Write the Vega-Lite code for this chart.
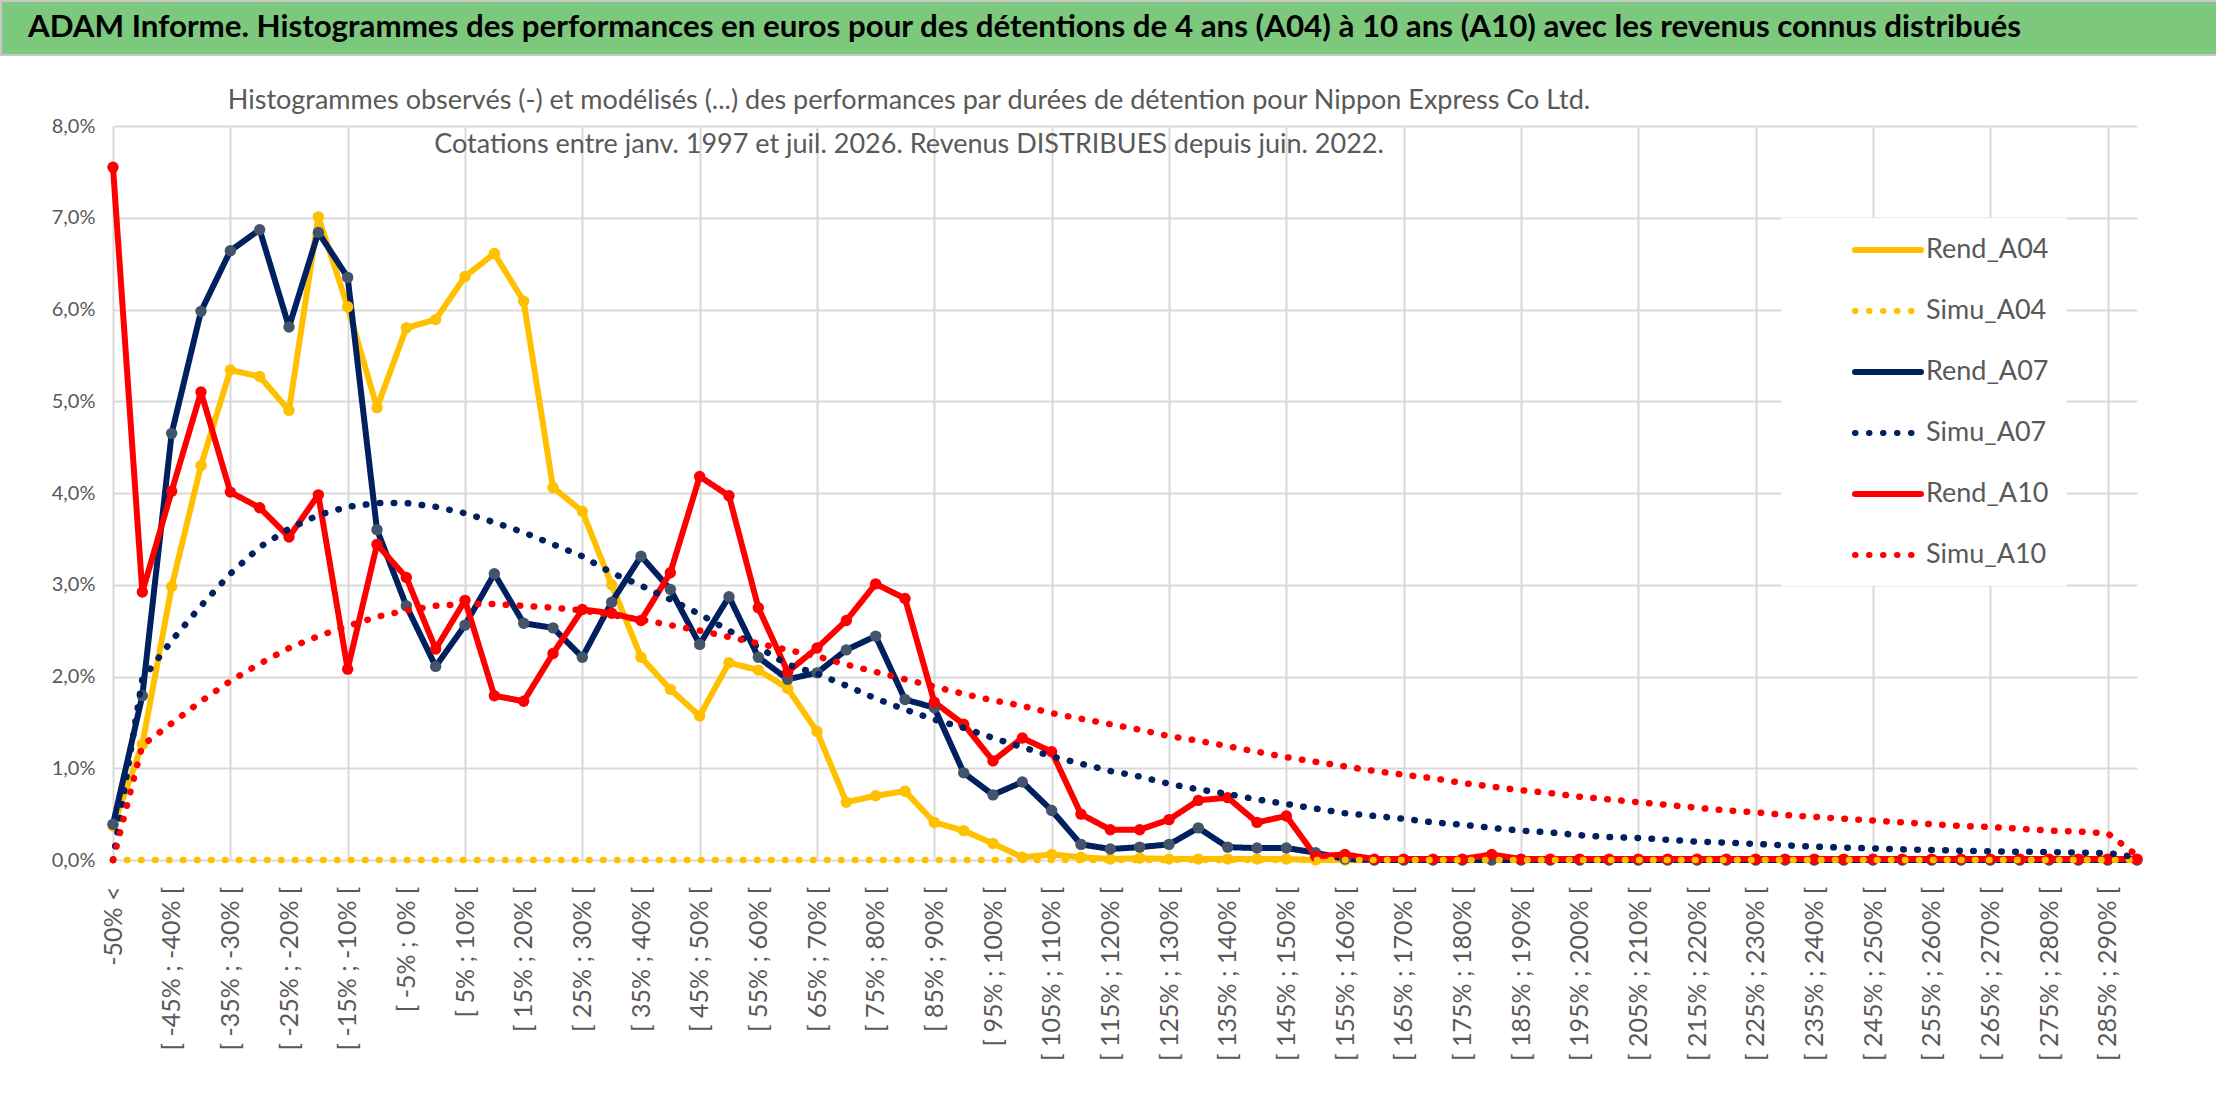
{
  "$schema": "https://vega.github.io/schema/vega-lite/v6.json",
  "background": "white",
  "padding": 0,
  "spacing": 71,
  "bounds": "flush",
  "config": {"view": {"stroke": null}, "font": "Lato"},
  "vconcat": [
    {
      "width": 2216,
      "height": 54,
      "view": {"fill": "#7CC87C", "stroke": "#C8C8C8", "strokeWidth": 2},
      "data": {"values": [{"t": "ADAM Informe. Histogrammes des performances en euros pour des détentions de 4 ans (A04) à 10 ans (A10) avec les revenus connus distribués"}]},
      "mark": {"type": "text", "align": "left", "baseline": "middle", "dx": -1081, "fontSize": 31.3, "fontWeight": "bold", "font": "Lato", "color": "#000000"},
      "encoding": {"text": {"field": "t", "type": "nominal"}}
    },
    {
      "spacing": 0,
      "bounds": "flush",
      "hconcat": [
        {"width": 112, "height": 734, "data": {"values": []}, "mark": "point"},
        {
          "width": 2024,
          "height": 734,
          "title": {
            "text": ["Histogrammes observés (-) et modélisés (...) des performances par durées de détention pour Nippon Express Co Ltd.", "Cotations entre janv. 1997 et juil. 2026. Revenus DISTRIBUES depuis juin. 2022."],
            "anchor": "start", "frame": "group", "align": "center", "dx": 796, "offset": -43,
            "fontSize": 27, "fontWeight": "normal", "color": "#595959", "lineHeight": 44, "font": "Lato"
          },
          "data": {"values": [
            {"i":0,"Rend_A04":0.37,"Simu_A04":0,"Rend_A07":0.39,"Simu_A07":0.0,"Rend_A10":7.55,"Simu_A10":0.0},
            {"i":1,"Rend_A04":1.26,"Simu_A04":0,"Rend_A07":1.79,"Simu_A07":1.97,"Rend_A10":2.92,"Simu_A10":1.25},
            {"i":2,"Rend_A04":2.98,"Simu_A04":0,"Rend_A07":4.65,"Simu_A07":2.39,"Rend_A10":4.02,"Simu_A10":1.49},
            {"i":3,"Rend_A04":4.30,"Simu_A04":0,"Rend_A07":5.98,"Simu_A07":2.77,"Rend_A10":5.10,"Simu_A10":1.73},
            {"i":4,"Rend_A04":5.34,"Simu_A04":0,"Rend_A07":6.64,"Simu_A07":3.12,"Rend_A10":4.01,"Simu_A10":1.95},
            {"i":5,"Rend_A04":5.27,"Simu_A04":0,"Rend_A07":6.87,"Simu_A07":3.41,"Rend_A10":3.84,"Simu_A10":2.14},
            {"i":6,"Rend_A04":4.90,"Simu_A04":0,"Rend_A07":5.81,"Simu_A07":3.61,"Rend_A10":3.52,"Simu_A10":2.31},
            {"i":7,"Rend_A04":7.01,"Simu_A04":0,"Rend_A07":6.84,"Simu_A07":3.76,"Rend_A10":3.98,"Simu_A10":2.44},
            {"i":8,"Rend_A04":6.03,"Simu_A04":0,"Rend_A07":6.35,"Simu_A07":3.85,"Rend_A10":2.08,"Simu_A10":2.55},
            {"i":9,"Rend_A04":4.93,"Simu_A04":0,"Rend_A07":3.60,"Simu_A07":3.89,"Rend_A10":3.44,"Simu_A10":2.65},
            {"i":10,"Rend_A04":5.80,"Simu_A04":0,"Rend_A07":2.77,"Simu_A07":3.89,"Rend_A10":3.08,"Simu_A10":2.72},
            {"i":11,"Rend_A04":5.89,"Simu_A04":0,"Rend_A07":2.11,"Simu_A07":3.85,"Rend_A10":2.30,"Simu_A10":2.77},
            {"i":12,"Rend_A04":6.36,"Simu_A04":0,"Rend_A07":2.56,"Simu_A07":3.78,"Rend_A10":2.83,"Simu_A10":2.79},
            {"i":13,"Rend_A04":6.61,"Simu_A04":0,"Rend_A07":3.12,"Simu_A07":3.68,"Rend_A10":1.79,"Simu_A10":2.79},
            {"i":14,"Rend_A04":6.09,"Simu_A04":0,"Rend_A07":2.58,"Simu_A07":3.57,"Rend_A10":1.73,"Simu_A10":2.77},
            {"i":15,"Rend_A04":4.06,"Simu_A04":0,"Rend_A07":2.53,"Simu_A07":3.44,"Rend_A10":2.25,"Simu_A10":2.75},
            {"i":16,"Rend_A04":3.80,"Simu_A04":0,"Rend_A07":2.21,"Simu_A07":3.31,"Rend_A10":2.73,"Simu_A10":2.72},
            {"i":17,"Rend_A04":3.00,"Simu_A04":0,"Rend_A07":2.81,"Simu_A07":3.13,"Rend_A10":2.69,"Simu_A10":2.67},
            {"i":18,"Rend_A04":2.21,"Simu_A04":0,"Rend_A07":3.31,"Simu_A07":2.99,"Rend_A10":2.61,"Simu_A10":2.62},
            {"i":19,"Rend_A04":1.86,"Simu_A04":0,"Rend_A07":2.95,"Simu_A07":2.84,"Rend_A10":3.13,"Simu_A10":2.56},
            {"i":20,"Rend_A04":1.57,"Simu_A04":0,"Rend_A07":2.35,"Simu_A07":2.68,"Rend_A10":4.18,"Simu_A10":2.50},
            {"i":21,"Rend_A04":2.15,"Simu_A04":0,"Rend_A07":2.87,"Simu_A07":2.50,"Rend_A10":3.97,"Simu_A10":2.43},
            {"i":22,"Rend_A04":2.07,"Simu_A04":0,"Rend_A07":2.21,"Simu_A07":2.32,"Rend_A10":2.75,"Simu_A10":2.36},
            {"i":23,"Rend_A04":1.87,"Simu_A04":0,"Rend_A07":1.97,"Simu_A07":2.13,"Rend_A10":2.05,"Simu_A10":2.29},
            {"i":24,"Rend_A04":1.40,"Simu_A04":0,"Rend_A07":2.04,"Simu_A07":2.03,"Rend_A10":2.31,"Simu_A10":2.22},
            {"i":25,"Rend_A04":0.63,"Simu_A04":0,"Rend_A07":2.29,"Simu_A07":1.90,"Rend_A10":2.61,"Simu_A10":2.13},
            {"i":26,"Rend_A04":0.70,"Simu_A04":0,"Rend_A07":2.44,"Simu_A07":1.76,"Rend_A10":3.01,"Simu_A10":2.05},
            {"i":27,"Rend_A04":0.75,"Simu_A04":0,"Rend_A07":1.75,"Simu_A07":1.64,"Rend_A10":2.85,"Simu_A10":1.97},
            {"i":28,"Rend_A04":0.41,"Simu_A04":0,"Rend_A07":1.66,"Simu_A07":1.53,"Rend_A10":1.72,"Simu_A10":1.89},
            {"i":29,"Rend_A04":0.32,"Simu_A04":0,"Rend_A07":0.95,"Simu_A07":1.44,"Rend_A10":1.48,"Simu_A10":1.81},
            {"i":30,"Rend_A04":0.18,"Simu_A04":0,"Rend_A07":0.71,"Simu_A07":1.33,"Rend_A10":1.08,"Simu_A10":1.74},
            {"i":31,"Rend_A04":0.03,"Simu_A04":0,"Rend_A07":0.85,"Simu_A07":1.23,"Rend_A10":1.33,"Simu_A10":1.68},
            {"i":32,"Rend_A04":0.06,"Simu_A04":0,"Rend_A07":0.54,"Simu_A07":1.13,"Rend_A10":1.18,"Simu_A10":1.60},
            {"i":33,"Rend_A04":0.03,"Simu_A04":0,"Rend_A07":0.17,"Simu_A07":1.05,"Rend_A10":0.50,"Simu_A10":1.54},
            {"i":34,"Rend_A04":0.01,"Simu_A04":0,"Rend_A07":0.12,"Simu_A07":0.97,"Rend_A10":0.33,"Simu_A10":1.48},
            {"i":35,"Rend_A04":0.02,"Simu_A04":0,"Rend_A07":0.14,"Simu_A07":0.91,"Rend_A10":0.33,"Simu_A10":1.42},
            {"i":36,"Rend_A04":0.01,"Simu_A04":0,"Rend_A07":0.17,"Simu_A07":0.83,"Rend_A10":0.44,"Simu_A10":1.35},
            {"i":37,"Rend_A04":0.01,"Simu_A04":0,"Rend_A07":0.35,"Simu_A07":0.77,"Rend_A10":0.65,"Simu_A10":1.30},
            {"i":38,"Rend_A04":0.01,"Simu_A04":0,"Rend_A07":0.14,"Simu_A07":0.72,"Rend_A10":0.68,"Simu_A10":1.24},
            {"i":39,"Rend_A04":0.01,"Simu_A04":0,"Rend_A07":0.13,"Simu_A07":0.66,"Rend_A10":0.41,"Simu_A10":1.18},
            {"i":40,"Rend_A04":0.01,"Simu_A04":0,"Rend_A07":0.13,"Simu_A07":0.61,"Rend_A10":0.48,"Simu_A10":1.12},
            {"i":41,"Rend_A04":0.0,"Simu_A04":0,"Rend_A07":0.08,"Simu_A07":0.56,"Rend_A10":0.04,"Simu_A10":1.07},
            {"i":42,"Rend_A04":0.0,"Simu_A04":0,"Rend_A07":0.01,"Simu_A07":0.51,"Rend_A10":0.06,"Simu_A10":1.02},
            {"i":43,"Rend_A04":0.0,"Simu_A04":0,"Rend_A07":0.0,"Simu_A07":0.48,"Rend_A10":0.01,"Simu_A10":0.97},
            {"i":44,"Rend_A04":0.0,"Simu_A04":0,"Rend_A07":0.0,"Simu_A07":0.45,"Rend_A10":0.01,"Simu_A10":0.93},
            {"i":45,"Rend_A04":0.0,"Simu_A04":0,"Rend_A07":0.0,"Simu_A07":0.41,"Rend_A10":0.01,"Simu_A10":0.89},
            {"i":46,"Rend_A04":0.0,"Simu_A04":0,"Rend_A07":0.0,"Simu_A07":0.385,"Rend_A10":0.01,"Simu_A10":0.84},
            {"i":47,"Rend_A04":0.0,"Simu_A04":0,"Rend_A07":0.0,"Simu_A07":0.35,"Rend_A10":0.06,"Simu_A10":0.80},
            {"i":48,"Rend_A04":0.0,"Simu_A04":0,"Rend_A07":0.0,"Simu_A07":0.32,"Rend_A10":0.01,"Simu_A10":0.76},
            {"i":49,"Rend_A04":0.0,"Simu_A04":0,"Rend_A07":0.0,"Simu_A07":0.30,"Rend_A10":0.01,"Simu_A10":0.73},
            {"i":50,"Rend_A04":0.0,"Simu_A04":0,"Rend_A07":0.0,"Simu_A07":0.27,"Rend_A10":0.01,"Simu_A10":0.69},
            {"i":51,"Rend_A04":0.0,"Simu_A04":0,"Rend_A07":0.0,"Simu_A07":0.25,"Rend_A10":0.01,"Simu_A10":0.66},
            {"i":52,"Rend_A04":0.0,"Simu_A04":0,"Rend_A07":0.0,"Simu_A07":0.24,"Rend_A10":0.01,"Simu_A10":0.63},
            {"i":53,"Rend_A04":0.0,"Simu_A04":0,"Rend_A07":0.0,"Simu_A07":0.22,"Rend_A10":0.01,"Simu_A10":0.60},
            {"i":54,"Rend_A04":0.0,"Simu_A04":0,"Rend_A07":0.0,"Simu_A07":0.20,"Rend_A10":0.01,"Simu_A10":0.57},
            {"i":55,"Rend_A04":0.0,"Simu_A04":0,"Rend_A07":0.0,"Simu_A07":0.19,"Rend_A10":0.01,"Simu_A10":0.54},
            {"i":56,"Rend_A04":0.0,"Simu_A04":0,"Rend_A07":0.0,"Simu_A07":0.175,"Rend_A10":0.01,"Simu_A10":0.52},
            {"i":57,"Rend_A04":0.0,"Simu_A04":0,"Rend_A07":0.0,"Simu_A07":0.16,"Rend_A10":0.01,"Simu_A10":0.49},
            {"i":58,"Rend_A04":0.0,"Simu_A04":0,"Rend_A07":0.0,"Simu_A07":0.145,"Rend_A10":0.01,"Simu_A10":0.47},
            {"i":59,"Rend_A04":0.0,"Simu_A04":0,"Rend_A07":0.0,"Simu_A07":0.135,"Rend_A10":0.01,"Simu_A10":0.45},
            {"i":60,"Rend_A04":0.0,"Simu_A04":0,"Rend_A07":0.0,"Simu_A07":0.127,"Rend_A10":0.01,"Simu_A10":0.43},
            {"i":61,"Rend_A04":0.0,"Simu_A04":0,"Rend_A07":0.0,"Simu_A07":0.116,"Rend_A10":0.01,"Simu_A10":0.41},
            {"i":62,"Rend_A04":0.0,"Simu_A04":0,"Rend_A07":0.0,"Simu_A07":0.11,"Rend_A10":0.01,"Simu_A10":0.39},
            {"i":63,"Rend_A04":0.0,"Simu_A04":0,"Rend_A07":0.0,"Simu_A07":0.10,"Rend_A10":0.01,"Simu_A10":0.37},
            {"i":64,"Rend_A04":0.0,"Simu_A04":0,"Rend_A07":0.0,"Simu_A07":0.095,"Rend_A10":0.01,"Simu_A10":0.36},
            {"i":65,"Rend_A04":0.0,"Simu_A04":0,"Rend_A07":0.0,"Simu_A07":0.09,"Rend_A10":0.01,"Simu_A10":0.34},
            {"i":66,"Rend_A04":0.0,"Simu_A04":0,"Rend_A07":0.0,"Simu_A07":0.087,"Rend_A10":0.01,"Simu_A10":0.32},
            {"i":67,"Rend_A04":0.0,"Simu_A04":0,"Rend_A07":0.0,"Simu_A07":0.08,"Rend_A10":0.01,"Simu_A10":0.31},
            {"i":68,"Rend_A04":0.0,"Simu_A04":0,"Rend_A07":0.0,"Simu_A07":0.076,"Rend_A10":0.01,"Simu_A10":0.29},
            {"i":69,"Rend_A04":0.0,"Simu_A04":0,"Rend_A07":0.0,"Simu_A07":0.03,"Rend_A10":0.01,"Simu_A10":0.05}
          ]},
          "transform": [{"fold": ["Rend_A04","Simu_A04","Rend_A07","Simu_A07","Rend_A10","Simu_A10"], "as": ["series","v"]}],
          "encoding": {
            "x": {
              "field": "i", "type": "quantitative",
              "scale": {"domain": [0, 69], "nice": false, "zero": false},
              "axis": {
                "values": [0,2,4,6,8,10,12,14,16,18,20,22,24,26,28,30,32,34,36,38,40,42,44,46,48,50,52,54,56,58,60,62,64,66,68],
                "labelExpr": "datum.value == 0 ? '-50% <' : '[ ' + (datum.value*5-55) + '% ; ' + (datum.value*5-50) + '% ['",
                "labelAngle": -90, "labelFontSize": 25, "labelColor": "#595959", "labelFont": "Lato",
                "labelPadding": 26, "ticks": false, "domain": false, "grid": true,
                "gridColor": "#D9D9D9", "gridWidth": 2,
                "gridOpacity": {"condition": {"test": "datum.value % 4 === 0", "value": 1}, "value": 0},
                "title": null, "labelOverlap": false, "labelFlush": false, "labelBound": false
              }
            },
            "y": {
              "field": "v", "type": "quantitative",
              "scale": {"domain": [0, 8], "nice": false},
              "axis": {
                "values": [0,1,2,3,4,5,6,7,8],
                "labelExpr": "replace(format(datum.value, '.1f'), '.', ',') + '%'",
                "labelFontSize": 20, "labelColor": "#595959", "labelFont": "Lato", "labelPadding": 18,
                "ticks": false, "domain": false, "gridColor": "#D9D9D9", "gridWidth": 2, "title": null
              }
            }
          },
          "layer": [
            {
              "transform": [{"filter": "indexof(datum.series, 'Rend') === 0"}],
              "mark": {"type": "line", "strokeWidth": 6, "strokeCap": "round", "strokeJoin": "round"},
              "encoding": {
                "color": {"field": "series", "type": "nominal",
                  "scale": {"domain": ["Rend_A04","Simu_A04","Rend_A07","Simu_A07","Rend_A10","Simu_A10"], "range": ["#FFC000","#FFC000","#002060","#002060","#FF0000","#FF0000"]},
                  "legend": {"title": null, "orient": "none", "legendX": 1780, "legendY": 217, "fillColor": "white", "padding": 18,
                    "symbolType": "M-3,0L3,0", "symbolSize": 484, "symbolStrokeWidth": 6, "symbolOffset": 75, "labelOffset": 24,
                    "labelFontSize": 27, "labelColor": "#595959", "labelFont": "Lato", "rowPadding": 34,
                    "encode": {"symbols": {"update": {"strokeCap": {"value": "round"}}}}}},
                "strokeDash": {"field": "series", "type": "nominal",
                  "scale": {"domain": ["Rend_A04","Simu_A04","Rend_A07","Simu_A07","Rend_A10","Simu_A10"], "range": [[1,0],[0.5,13.5],[1,0],[0.5,13.5],[1,0],[0.5,13.5]]},
                  "legend": {"title": null}}
              }
            },
            {
              "transform": [{"filter": "indexof(datum.series, 'Rend') === 0"}],
              "mark": {"type": "point", "filled": true, "size": 130, "opacity": 1},
              "encoding": {
                "color": {"condition": {"test": "datum.series === 'Rend_A07'", "value": "#44546A"}, "field": "series", "type": "nominal", "legend": null}
              }
            },
            {
              "transform": [{"filter": "indexof(datum.series, 'Simu') === 0"}],
              "mark": {"type": "line", "strokeWidth": 6.5, "strokeCap": "round"},
              "encoding": {
                "color": {"field": "series", "type": "nominal"},
                "strokeDash": {"field": "series", "type": "nominal"}
              }
            }
          ]
        }
      ]
    }
  ]
}
